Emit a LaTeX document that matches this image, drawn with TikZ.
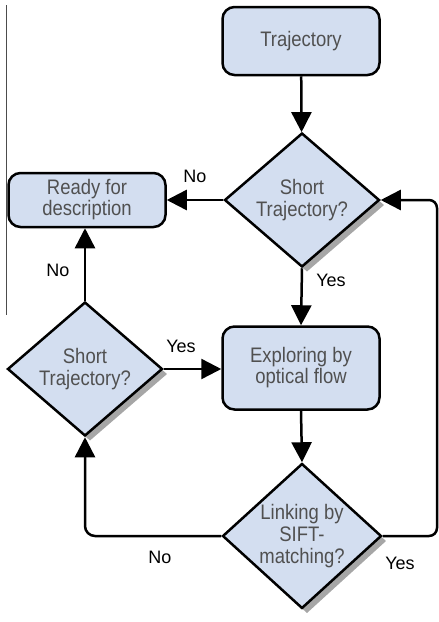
\documentclass[tikz,border=0pt]{standalone}
\usepackage{fontspec}
\setmainfont{Liberation Sans}
\newfontfamily\narrowsans[FakeStretch=0.88]{Liberation Sans}
\usetikzlibrary{shapes.geometric,arrows.meta,shadows}

\definecolor{boxblue}{RGB}{211,222,240}
\definecolor{textgray}{RGB}{80,80,80}

\begin{document}
\begin{tikzpicture}
  [x=1pt, y=-1pt,
   block/.style={draw, line width=2.5pt, rounded corners=12pt, fill=boxblue,
     text=textgray, align=center, font=\narrowsans\fontsize{21}{21}\selectfont,
     minimum width=157pt, inner sep=0pt},
   decision/.style={draw, diamond, line width=2.5pt, fill=boxblue,
     text=textgray, align=center, font=\narrowsans\fontsize{21}{22}\selectfont,
     shape aspect=1.16, minimum width=155pt, minimum height=134pt, inner sep=0pt,
     drop shadow={shadow xshift=5pt, shadow yshift=-5pt, fill=gray!70, opacity=1}},
   flow/.style={line width=2.5pt, -{Triangle[length=20pt,width=20pt]}},
   answer/.style={font=\fontsize{18}{18}\selectfont}]
  \useasboundingbox (0,0) rectangle (439,622);
  \draw[gray!60!black, line width=0.8pt] (6,5) -- (6,315);

  \node[block, minimum height=68pt] (traj) at (301,41) {Trajectory};
  \node[decision] (dec1) at (302,200) {Short\\Trajectory?};
  \node[block, minimum height=54pt] (ready) at (87,200) {Ready for\\description};
  \node[block, minimum height=83pt] (explore) at (301,368) {Exploring by\\optical flow};
  \node[decision] (dec2) at (85,369) {Short\\Trajectory?};
  \node[decision, minimum height=145pt] (link) at (302,536) {Linking by\\SIFT-\\matching?};
  \coordinate (back) at (437,0);

  \draw[flow] (traj) -- (dec1);
  \draw[flow] (dec1.west) -- (ready.east);
  \draw[flow] (dec1.south) -- (explore.north);
  \draw[flow] (dec2.east) -- (dec2.east -| explore.west);
  \draw[flow] (dec2.north) -- (dec2.north |- ready.south);
  \draw[flow] (explore.south) -- (link.north);
  \draw[flow, rounded corners=10pt] (link.west) -| (dec2.south);
  \draw[flow, rounded corners=8pt] (link.east) -- (link.east -| back)
    -- (dec1.east -| back) -- (dec1.east);

  \node[answer] (no1) at (195,176) {No};
  \node[answer] (yes1) at (331,280) {Yes};
  \node[answer] (no2) at (58,270) {No};
  \node[answer] (yes2) at (181,346) {Yes};
  \node[answer] (no3) at (160,557) {No};
  \node[answer] (yes3) at (400,563) {Yes};
\end{tikzpicture}
\end{document}
